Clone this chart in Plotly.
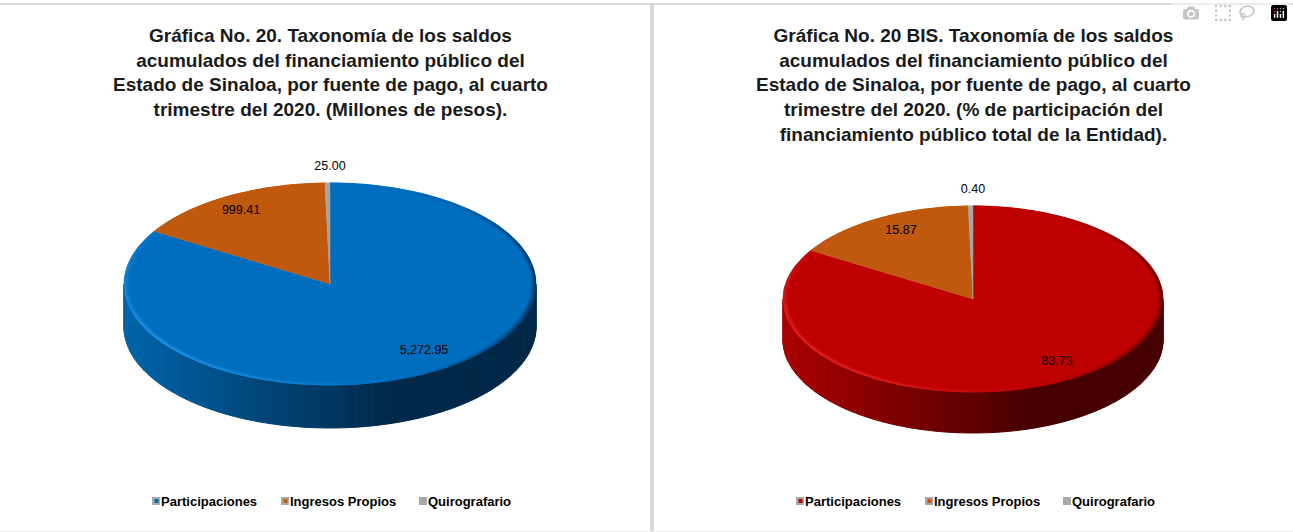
import math
import plotly.graph_objects as go

categories = ["Participaciones", "Ingresos Propios", "Quirografario"]
saldos = [5272.95, 999.41, 25.00]
participacion = [83.73, 15.87, 0.40]
saldos_text = ["5,272.95", "999.41", "25.00"]
participacion_text = ["83.73", "15.87", "0.40"]

title_left = ("Gráfica No. 20. Taxonomía de los saldos<br>acumulados del financiamiento público del<br>"
              "Estado de Sinaloa, por fuente de pago, al cuarto<br>trimestre del 2020. (Millones de pesos).")
title_right = ("Gráfica No. 20 BIS. Taxonomía de los saldos<br>acumulados del financiamiento público del<br>"
               "Estado de Sinaloa, por fuente de pago, al cuarto<br>trimestre del 2020. (% de participación del<br>"
               "financiamiento público total de la Entidad).")

WIDTH, HEIGHT = 1293, 532
FONT = "Liberation Sans"
ORANGE, GREY = (192, 88, 14), (165, 165, 165)
STEPS = 240


def rgb(c):
    return "rgb(%d,%d,%d)" % tuple(max(0, min(255, round(v))) for v in c)


def mix(a, b, t):
    return tuple(a[i] + (b[i] - a[i]) * t for i in range(3))


def ellipse_pt(p, deg, inset=0):
    # angle is clockwise from 12 o'clock
    a = math.radians(deg)
    return (p["cx"] + (p["rx"] - inset) * math.sin(a), p["cy"] - (p["ry"] - inset * p["ry"] / p["rx"]) * math.cos(a))


def add_pie(fig, p, values, texts, label_pos, title):
    colors = [p["base"], ORANGE, GREY]
    total = sum(values)

    # side wall, shaded left to right
    for i in range(STEPS // 2):
        a0 = 90 + i * 180 / (STEPS / 2)
        a1 = a0 + 180 / (STEPS / 2)
        x0, y0 = ellipse_pt(p, a0)
        x1, y1 = ellipse_pt(p, a1)
        t = min(1, ((x0 + x1) / 2 - (p["cx"] - p["rx"])) / (2 * p["rx"]) / 0.66)
        c = rgb(mix(p["side_light"], p["side_dark"], t))
        fig.add_trace(go.Scatter(
            x=[x0, x1, x1, x0, x0], y=[y0, y1, y1 + p["depth"], y0 + p["depth"], y0],
            mode="lines", fill="toself", fillcolor=c, line=dict(color=c, width=1),
            hoverinfo="skip", showlegend=False))

    # top face slices
    start = 0
    spans = []
    for name, val, col in zip(categories, values, colors):
        end = start + val / total * 360
        n = max(2, int((end - start) / 1.5))
        pts = [ellipse_pt(p, start + (end - start) * k / n) for k in range(n + 1)]
        xs = [p["cx"]] + [q[0] for q in pts] + [p["cx"]]
        ys = [p["cy"]] + [q[1] for q in pts] + [p["cy"]]
        fig.add_trace(go.Scatter(
            x=xs, y=ys, mode="lines", fill="toself", fillcolor=rgb(col),
            line=dict(color=rgb(col), width=0.5), name=name, text=name,
            hoverinfo="text", showlegend=False))
        spans.append((start, end, col))
        start = end

    # bevel along the rim: bright lower left, dark on the right
    buckets = {}
    for start, end, col in spans:
        n = max(1, int((end - start) / 2))
        for k in range(n):
            a0 = start + (end - start) * k / n
            a1 = start + (end - start) * (k + 1) / n
            mid = (a0 + a1) / 2
            bright = max(0, math.cos(math.radians(mid - 238))) ** 2
            dark = max(0, math.cos(math.radians(mid - 90))) ** 3
            for inset in range(5):
                fade = 1 - inset / 5
                c = mix(col, p["bevel"], bright * fade * 0.55)
                c = mix(c, p["side_dark"], dark * fade * 0.8)
                q0, q1 = ellipse_pt(p, a0, inset + 0.5), ellipse_pt(p, a1, inset + 0.5)
                key = rgb(tuple(round(v / 6) * 6 for v in c))
                b = buckets.setdefault(key, ([], []))
                b[0].extend([q0[0], q1[0], None])
                b[1].extend([q0[1], q1[1], None])
    for key, (xs, ys) in buckets.items():
        fig.add_trace(go.Scatter(x=xs, y=ys, mode="lines", line=dict(color=key, width=1.4),
                                 hoverinfo="skip", showlegend=False))

    # data labels
    fig.add_trace(go.Scatter(
        x=[q[0] for q in label_pos], y=[q[1] for q in label_pos], mode="text", text=texts,
        textposition="middle center", textfont=dict(family=FONT, size=12.5, color="#000000"),
        hoverinfo="skip", showlegend=False))

    # legend row
    for name, col, tx in zip(categories, colors, p["legend_x"]):
        fig.add_trace(go.Scatter(x=[tx - 5], y=[p["legend_y"]], mode="markers",
                                 marker=dict(symbol="square", size=8, color="#a9a9a9", line=dict(width=0)),
                                 hoverinfo="skip", showlegend=False))
        fig.add_trace(go.Scatter(x=[tx - 4.5], y=[p["legend_y"]], mode="markers",
                                 marker=dict(symbol="square", size=4, color=rgb(col), line=dict(width=0)),
                                 hoverinfo="skip", showlegend=False))
        fig.add_annotation(x=tx, y=p["legend_y"], text="<b>%s</b>" % name, showarrow=False, xanchor="left",
                           yanchor="middle", xshift=-2, font=dict(family=FONT, size=13, color="#000000"))

    fig.add_annotation(x=p["cx"], y=p["title_y"], text="<b>%s</b>" % title, showarrow=False, xanchor="center",
                       yanchor="top", align="center", font=dict(family=FONT, size=19, color="#1a1a1a"))


left = dict(cx=330, cy=284, rx=206, ry=101, depth=43, base=(0, 110, 190),
            side_light=(0, 100, 170), side_dark=(0, 40, 72), bevel=(50, 170, 255),
            legend_x=[161, 290, 428], legend_y=501, title_y=23)
right = dict(cx=973, cy=299, rx=190, ry=93, depth=41, base=(190, 0, 0),
             side_light=(170, 0, 0), side_dark=(70, 0, 0), bevel=(255, 60, 60),
             legend_x=[805, 934, 1072], legend_y=501, title_y=23)

fig = go.Figure()
add_pie(fig, left, saldos, saldos_text, [(424, 351), (241, 211), (330, 167)], title_left)
add_pie(fig, right, participacion, participacion_text, [(1057, 362), (901, 231), (973, 190)], title_right)

frame = dict(type="rect", fillcolor="#d9d9d9", line=dict(width=0), layer="below")
fig.update_layout(
    width=WIDTH, height=HEIGHT, autosize=False,
    margin=dict(l=0, r=0, t=0, b=0),
    paper_bgcolor="#ffffff", plot_bgcolor="#ffffff", showlegend=False,
    xaxis=dict(range=[0, WIDTH], visible=False, fixedrange=True),
    yaxis=dict(range=[HEIGHT, 0], visible=False, fixedrange=True),
    shapes=[
        dict(frame, x0=0, x1=WIDTH, y0=3, y1=5),
        dict(frame, x0=650, x1=654, y0=4, y1=HEIGHT),
        dict(frame, x0=0, x1=WIDTH, y0=531, y1=532, fillcolor="#efefef"),
    ],
)

fig.write_html("out.html", post_script="document.body.style.margin='0';")
